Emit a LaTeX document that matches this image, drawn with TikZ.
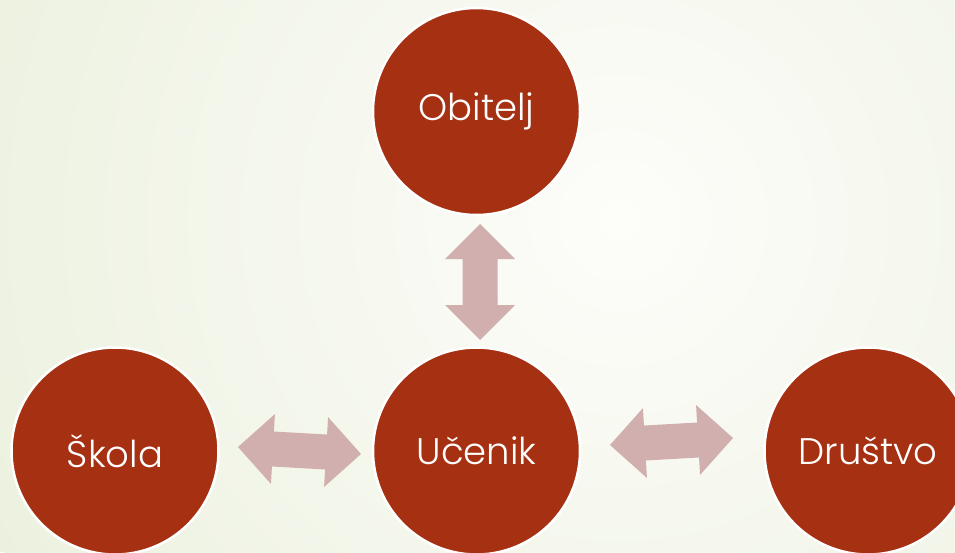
\documentclass[tikz,border=0pt]{standalone}
\usepackage{fontspec}
\setmainfont{Poppins}[UprightFont=* Light]
\usetikzlibrary{calc}
\definecolor{circfill}{HTML}{A63012}
\definecolor{arrowfill}{HTML}{D1AFAE}
\definecolor{bgout}{HTML}{ECF1DF}
\definecolor{bgin}{HTML}{FDFDFA}
\tikzset{
  bubble/.style={circle, fill=circfill, draw=white, line width=2.5pt, minimum size=207pt, inner sep=0pt, text=white, font=\fontsize{37}{42}\selectfont},
  blockarrow/.style={fill=arrowfill, draw=none},
}
\newcommand{\dblarrow}[2]{%
  \path[blockarrow]
    (#1)
    -- ($(#1)!35pt!(#2)!35pt!90:(#2)$)
    -- ($(#1)!35pt!(#2)!17.5pt!90:(#2)$)
    -- ($(#2)!35pt!(#1)!17.5pt!-90:(#1)$)
    -- ($(#2)!35pt!(#1)!35pt!-90:(#1)$)
    -- (#2)
    -- ($(#2)!35pt!(#1)!35pt!90:(#1)$)
    -- ($(#2)!35pt!(#1)!17.5pt!90:(#1)$)
    -- ($(#1)!35pt!(#2)!17.5pt!-90:(#2)$)
    -- ($(#1)!35pt!(#2)!35pt!-90:(#2)$)
    -- cycle;}
\begin{document}
\begin{tikzpicture}[x=1pt,y=-1pt]
\useasboundingbox (0,0) rectangle (955,552);
\clip (0,0) rectangle (955,552);
\fill[bgout] (0,0) rectangle (955,552);
\shade[inner color=bgin, outer color=bgout] (620,220) circle[radius=700];
\node[bubble] (obitelj) at (476.5,111.5) {Obitelj};
\node[bubble] (ucenik) at (476.5,451) {Učenik};
\node[bubble] (skola) at (115,451) {Škola};
\node[bubble] (drustvo) at (868,451) {Društvo};
\coordinate (vA) at (480,224);
\coordinate (vB) at (480,340);
\coordinate (lA) at (238,447);
\coordinate (lB) at (361,454);
\coordinate (rA) at (610,445);
\coordinate (rB) at (733,438);
\dblarrow{vA}{vB}
\dblarrow{lA}{lB}
\dblarrow{rA}{rB}
\end{tikzpicture}
\end{document}
